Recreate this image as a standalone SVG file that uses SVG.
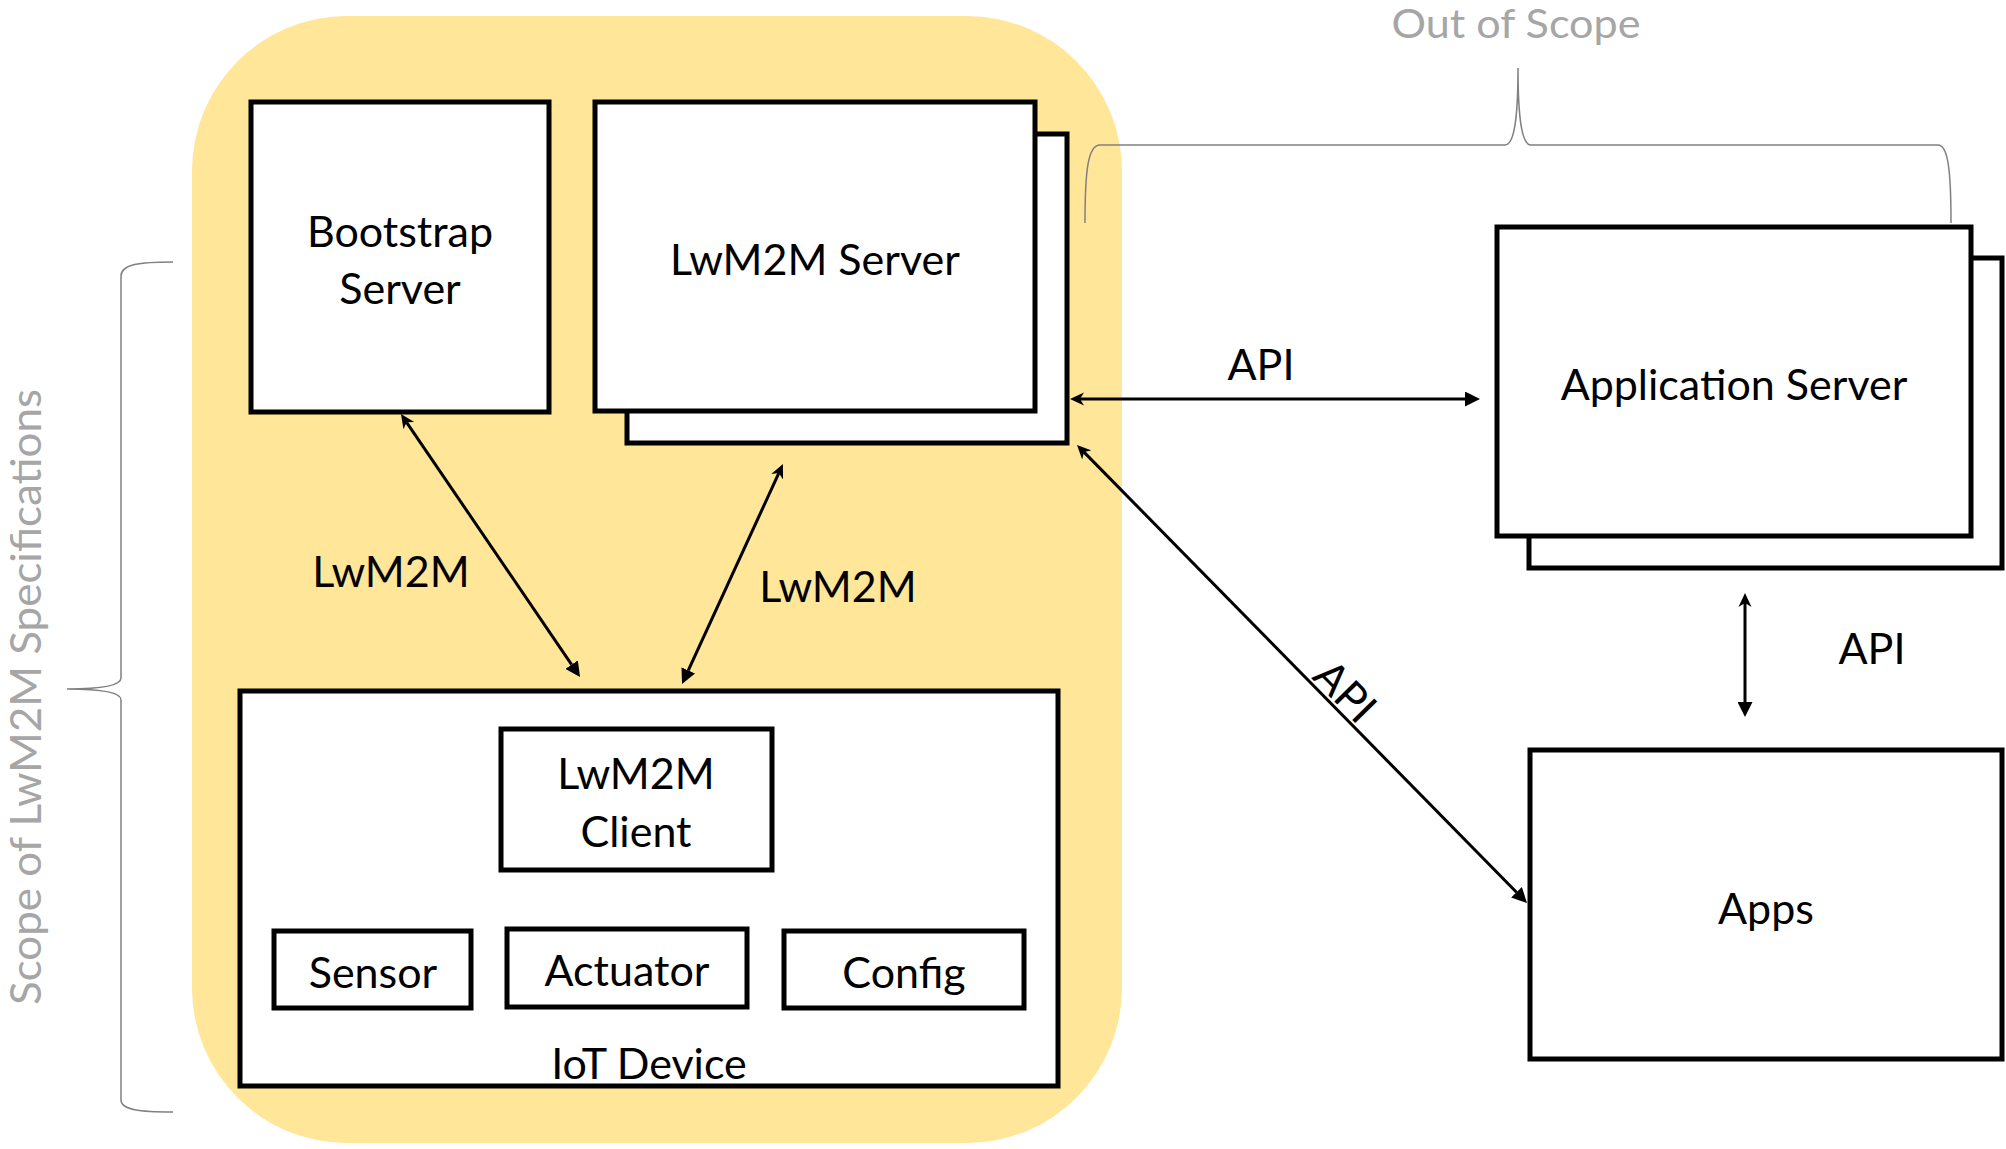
<svg xmlns="http://www.w3.org/2000/svg" width="2006" height="1149" viewBox="0 0 2006 1149">
<style>
.box{fill:#fff;stroke:#000;stroke-width:5}
.lbl{font-family:Lato,"Liberation Sans",sans-serif;font-size:43px;fill:#000;text-anchor:middle}
.gray{font-family:Lato,"Liberation Sans",sans-serif;fill:#a6a6a6;text-anchor:middle}
.brace{fill:none;stroke:#808080;stroke-width:1.5}
.conn{fill:none;stroke:#000;stroke-width:3;marker-start:url(#open);marker-end:url(#solid)}
</style>
<defs>
<marker id="open" viewBox="0 -7 14 14" markerWidth="14" markerHeight="14" refX="4" refY="0" orient="auto-start-reverse" markerUnits="userSpaceOnUse"><path d="M0,-6.5 L14,0 L0,6.5 L4,0 Z" fill="#000"/></marker>
<marker id="solid" viewBox="0 -7.5 15 15" markerWidth="15" markerHeight="15" refX="0" refY="0" orient="auto" markerUnits="userSpaceOnUse"><path d="M0,-7.5 L15,0 L0,7.5 Z" fill="#000"/></marker>
</defs>
<rect id="scope-area" x="192" y="16" width="930" height="1127" rx="155" ry="155" fill="#ffe699"/>
<g id="out-of-scope">
<path class="brace" d="M1085,223 C1085,170 1088,145 1100,145 L1505,145 C1514,145 1518,120 1518,68 C1518,120 1522,145 1531,145 L1938,145 C1948,145 1951,170 1951,223"/>
<text class="gray" x="1516" y="38" font-size="41" textLength="249" lengthAdjust="spacingAndGlyphs">Out of Scope</text>
</g>
<g id="lwm2m-scope">
<path class="brace" d="M173,262 C140,262 121,264 121,276 L121,678 C121,686 100,689 67,689 C100,689 121,692 121,700 L121,1100 C121,1110 140,1112 173,1112"/>
<text class="gray" x="41" y="697" font-size="43" textLength="616" lengthAdjust="spacingAndGlyphs" transform="rotate(-90 41 697)">Scope of LwM2M Specifications</text>
</g>
<g id="bootstrap-server">
<rect class="box" x="251" y="102" width="298" height="310"/>
<text class="lbl" x="400" y="247">Bootstrap</text>
<text class="lbl" x="400" y="304">Server</text>
</g>
<g id="lwm2m-server">
<rect class="box" x="627" y="134" width="440" height="309"/>
<rect class="box" x="595" y="102" width="440" height="309"/>
<text class="lbl" x="815" y="275">LwM2M Server</text>
</g>
<g id="application-server">
<rect class="box" x="1529" y="258" width="473" height="310"/>
<rect class="box" x="1497" y="227" width="474" height="309"/>
<text class="lbl" x="1734" y="400">Application Server</text>
</g>
<g id="apps">
<rect class="box" x="1530" y="750" width="472" height="309"/>
<text class="lbl" x="1766" y="924">Apps</text>
</g>
<g id="iot-device">
<rect class="box" x="240" y="691" width="818" height="395"/>
<text class="lbl" x="649" y="1079">IoT Device</text>
</g>
<g id="lwm2m-client">
<rect class="box" x="501" y="729" width="271" height="141"/>
<text class="lbl" x="636" y="789">LwM2M</text>
<text class="lbl" x="636" y="847">Client</text>
</g>
<g id="sensor">
<rect class="box" x="274" y="931" width="197" height="77"/>
<text class="lbl" x="373" y="988">Sensor</text>
</g>
<g id="actuator">
<rect class="box" x="507" y="929" width="240" height="78"/>
<text class="lbl" x="627" y="986">Actuator</text>
</g>
<g id="config">
<rect class="box" x="784" y="931" width="240" height="77"/>
<text class="lbl" x="904" y="988">Config</text>
</g>
<g id="connectors">
<path class="conn" d="M1080,399 L1465,399"/>
<path class="conn" d="M1084,452.1 L1516.5,892.3"/>
<path class="conn" d="M406.6,422.3 L571.6,664.6"/>
<path class="conn" d="M778.8,473.1 L688.3,670.4"/>
<path class="conn" d="M1745,603 L1745,702"/>
<text class="lbl" x="1261" y="380">API</text>
<text class="lbl" x="1334.5" y="701.9" transform="rotate(45.4 1334.5 701.9)">API</text>
<text class="lbl" x="1872" y="664">API</text>
<text class="lbl" x="391" y="587">LwM2M</text>
<text class="lbl" x="838" y="602">LwM2M</text>
</g>
</svg>
